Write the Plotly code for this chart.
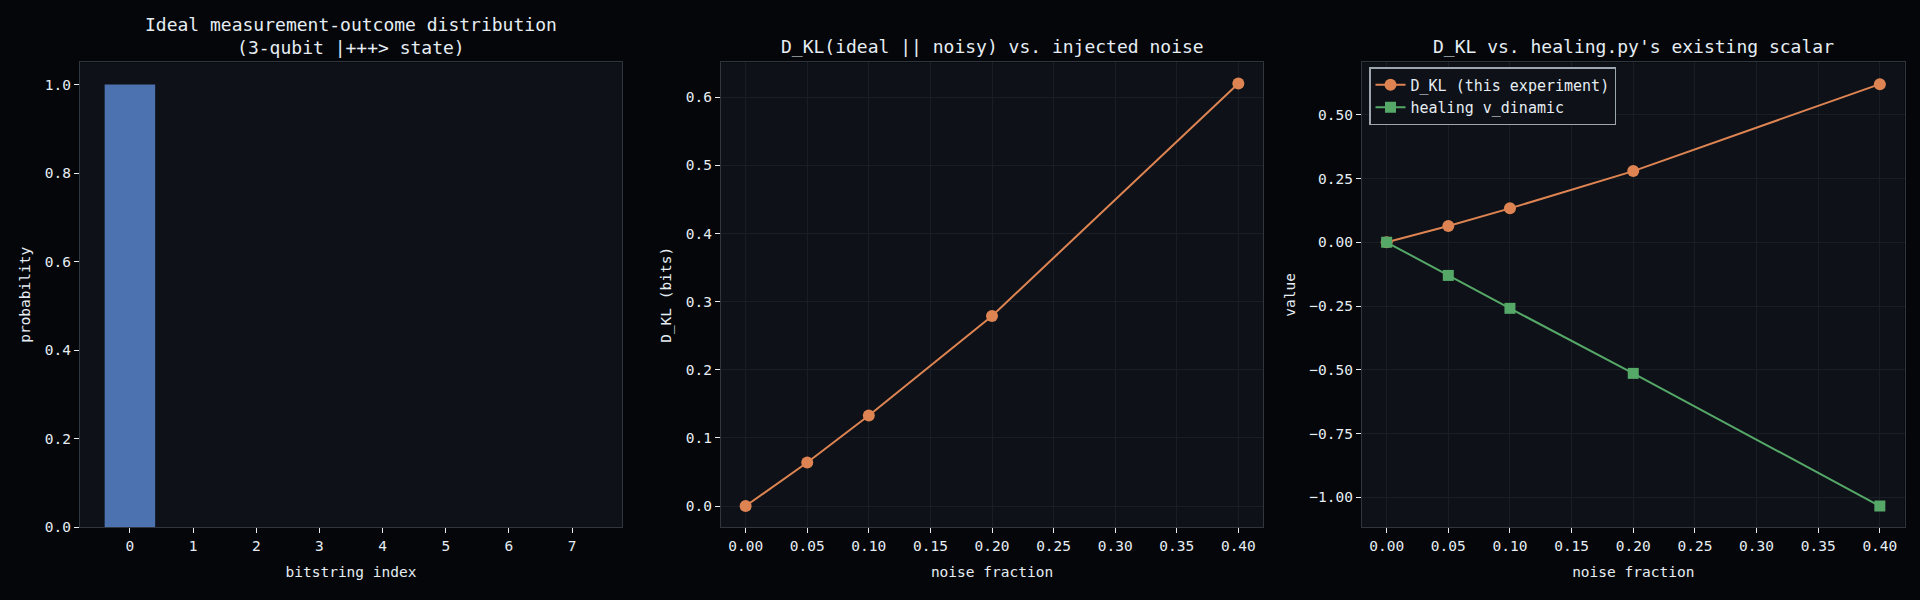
import plotly.graph_objects as go
from plotly.subplots import make_subplots

# ideal distribution over the 8 bitstrings
bitstrings = [0, 1, 2, 3, 4, 5, 6, 7]
ideal_prob = [1.0, 0.0, 0.0, 0.0, 0.0, 0.0, 0.0, 0.0]

# noise sweep
noise = [0.00, 0.05, 0.10, 0.20, 0.40]
dkl_bits = [0.000, 0.064, 0.133, 0.279, 0.620]
healing_v = [0.000, -0.130, -0.259, -0.514, -1.034]

# colours / fonts
FIG_BG = '#04060a'
AX_BG = '#0e1117'
SPINE = '#30363d'
GRID = '#191d24'
TXT = '#e6edf3'
BLUE = '#4c72b0'
ORANGE = '#dd8452'
GREEN = '#55a868'
MONO = 'DejaVu Sans Mono'

fig = make_subplots(rows=1, cols=3)

fig.add_trace(go.Bar(x=bitstrings, y=ideal_prob, width=0.8,
                     marker=dict(color=BLUE, line=dict(width=0)),
                     showlegend=False), row=1, col=1)

fig.add_trace(go.Scatter(x=noise, y=dkl_bits, mode='lines+markers',
                         line=dict(color=ORANGE, width=2),
                         marker=dict(color=ORANGE, size=12, symbol='circle'),
                         showlegend=False), row=1, col=2)

fig.add_trace(go.Scatter(x=noise, y=dkl_bits, mode='lines+markers',
                         name='D_KL (this experiment)',
                         line=dict(color=ORANGE, width=2),
                         marker=dict(color=ORANGE, size=12, symbol='circle')),
              row=1, col=3)
fig.add_trace(go.Scatter(x=noise, y=healing_v, mode='lines+markers',
                         name='healing v_dinamic',
                         line=dict(color=GREEN, width=2),
                         marker=dict(color=GREEN, size=11, symbol='square')),
              row=1, col=3)

W, H = 1920, 600
y_dom = [1 - 534.3 / H, 1 - 63.3 / H]
x_doms = [[80 / W, 622 / W], [721 / W, 1263 / W], [1362 / W, 1904.5 / W]]

axis_common = dict(showline=True, linecolor=SPINE, linewidth=1.2, mirror=True,
                   ticks='outside', ticklen=5, tickcolor=TXT, tickwidth=1.2,
                   zeroline=False, gridcolor=GRID, gridwidth=1,
                   tickfont=dict(family=MONO, size=14.5, color=TXT),
                   title_font=dict(family=MONO, size=14.5, color=TXT))

fig.update_xaxes(**axis_common)
fig.update_yaxes(**axis_common)

fig.update_xaxes(domain=x_doms[0], range=[-0.79, 7.79], tickvals=bitstrings,
                 showgrid=False, title=dict(text='bitstring index', standoff=14),
                 row=1, col=1)
fig.update_yaxes(domain=y_dom, range=[0, 1.05], tickvals=[0, 0.2, 0.4, 0.6, 0.8, 1.0],
                 tickformat='.1f', showgrid=False,
                 title=dict(text='probability', standoff=10), row=1, col=1)

fig.update_xaxes(domain=x_doms[1], range=[-0.02, 0.42], dtick=0.05, tick0=0,
                 tickformat='.2f', title=dict(text='noise fraction', standoff=14),
                 row=1, col=2)
fig.update_yaxes(domain=y_dom, range=[-0.031, 0.651], dtick=0.1, tick0=0,
                 tickformat='.1f', title=dict(text='D_KL (bits)', standoff=10),
                 row=1, col=2)

fig.update_xaxes(domain=x_doms[2], range=[-0.02, 0.42], dtick=0.05, tick0=0,
                 tickformat='.2f', title=dict(text='noise fraction', standoff=14),
                 row=1, col=3)
fig.update_yaxes(domain=y_dom, range=[-1.117, 0.705], dtick=0.25, tick0=0,
                 tickformat='.2f', title=dict(text='value', standoff=10),
                 row=1, col=3)

# subplot titles (centre heights)
titles = ['Ideal measurement-outcome distribution<br>(3-qubit |+++> state)',
          'D_KL(ideal || noisy) vs. injected noise',
          "D_KL vs. healing.py's existing scalar"]
title_mid = [36, 47, 47]
for dom, t, ym in zip(x_doms, titles, title_mid):
    fig.add_annotation(text=t, x=(dom[0] + dom[1]) / 2, y=1 - ym / H,
                       xref='paper', yref='paper', xanchor='center', yanchor='middle',
                       showarrow=False, align='center',
                       font=dict(family=MONO, size=18, color=TXT))

fig.update_layout(
    width=W, height=H,
    margin=dict(l=0, r=0, t=0, b=0),
    paper_bgcolor=FIG_BG,
    plot_bgcolor=AX_BG,
    font=dict(family=MONO, color=TXT),
    legend=dict(x=1369 / W, y=1 - 68 / H, xanchor='left', yanchor='top',
                bgcolor=AX_BG, bordercolor='#9da5ae', borderwidth=1.5,
                font=dict(family=MONO, size=15, color=TXT),
                tracegroupgap=0),
)

# drop the default page margin so the figure fills the window
fig.write_html("out.html", config={'displayModeBar': False},
               post_script="document.body.style.margin='0';"
                           "document.body.style.background='#04060a';")
